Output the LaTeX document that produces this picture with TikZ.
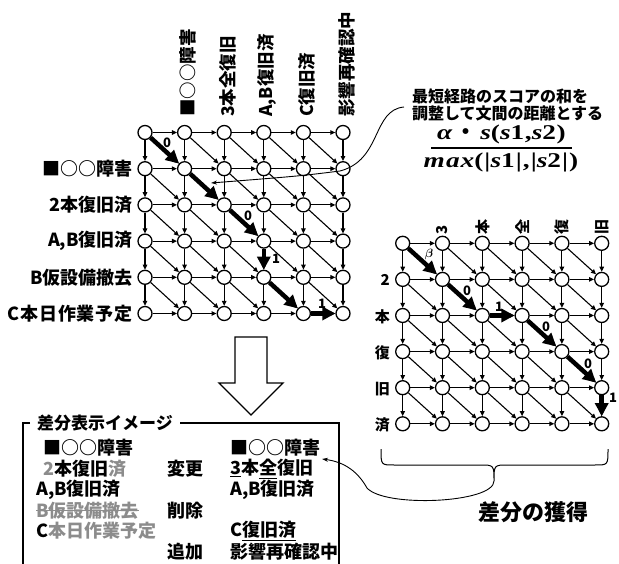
\documentclass[tikz,border=0pt]{standalone}
\usepackage{fontspec}
\usepackage{amsmath,bm}
\newfontfamily\jp{Noto Sans CJK JP}
\newfontfamily\msn{Liberation Serif}[LetterSpace=3,FakeStretch=1.3]
\newfontfamily\msd{Liberation Serif}[LetterSpace=5,FakeStretch=1.3]
\newcommand\bi[1]{{\itshape #1}}
\usetikzlibrary{arrows.meta}
\definecolor{txtgray}{RGB}{140,140,140}
\begin{document}
\begin{tikzpicture}[x=1pt,y=-1pt,
  vtx/.style={circle,draw,line width=1.3pt,fill=white,minimum size=14pt,inner sep=0pt},
  thinarr/.style={-{Triangle[length=5pt,width=4.5pt]},line width=1.1pt},
  thickarr/.style={-{Triangle[length=13pt,width=13pt]},line width=4.5pt},
  rowlbl/.style={font=\jp\bfseries\fontsize{18}{18}\selectfont,inner sep=0pt,anchor=east},
  collbl/.style={font=\jp\bfseries\fontsize{17.5}{17.5}\selectfont,inner sep=0pt,anchor=west,rotate=90},
  rrowlbl/.style={font=\jp\bfseries\fontsize{15}{15}\selectfont,inner sep=0pt,anchor=east},
  rcollbl/.style={font=\jp\bfseries\fontsize{15}{15}\selectfont,inner sep=0pt,anchor=west,rotate=90},
  elbl/.style={font=\jp\bfseries\fontsize{13}{13}\selectfont,inner sep=0pt},
  bx/.style={font=\jp\bfseries\fontsize{18}{18}\selectfont,anchor=west,inner sep=0pt},
  callout/.style={line width=0.9pt,-{Stealth[length=6pt,width=4pt]}},
]
\useasboundingbox (0,0) rectangle (619,564);

% ---------- left grid ----------
\foreach \c in {0,...,5} \foreach \r in {0,...,5}
  \node[vtx] (L\c\r) at ({145+39.6*\c},{132.5+36.2*\r}) {};
\foreach \c in {0,...,4} {
  \pgfmathtruncatemacro\nc{\c+1}
  \foreach \r in {0,...,5} \draw[thinarr] (L\c\r) -- (L\nc\r);
}
\foreach \r in {0,...,4} {
  \pgfmathtruncatemacro\nr{\r+1}
  \foreach \c in {0,...,5} \draw[thinarr] (L\c\r) -- (L\c\nr);
}
\foreach \c in {0,...,4} {
  \pgfmathtruncatemacro\nc{\c+1}
  \foreach \r in {0,...,4} {
    \pgfmathtruncatemacro\nr{\r+1}
    \draw[thinarr] (L\c\r) -- (L\nc\nr);
  }
}
\draw[thickarr] (L00) -- (L11);
\draw[thickarr] (L11) -- (L22);
\draw[thickarr] (L22) -- (L33);
\draw[thickarr] (L33) -- (L34);
\draw[thickarr] (L34) -- (L45);
\draw[thickarr] (L45) -- (L55);
\node[elbl] (le1) at (167,143) {0};
\node[elbl] (le2) at (248,216) {0};
\node[elbl] (le3) at (276,259) {1};
\node[elbl] (le4) at (322,304) {1};

% row labels
\node[rowlbl] (lr1) at (133,168.7) {■○○障害};
\node[rowlbl] (lr2) at (133,204.9) {2本復旧済};
\node[rowlbl] (lr3) at (133,241.1) {A,B復旧済};
\node[rowlbl] (lr4) at (133,277.3) {B仮設備撤去};
\node[rowlbl] (lr5) at (133,313.5) {\addfontfeature{LetterSpace=5}C本日作業予定};
% column labels
\node[collbl] (lc1) at (187.5,117) {■○○障害};
\node[collbl] (lc2) at (227.5,117) {3本全復旧};
\node[collbl] (lc3) at (267,117) {A,B復旧済};
\node[collbl] (lc4) at (307,117) {C復旧済};
\node[collbl] (lc5) at (346.5,117) {影響再確認中};

% ---------- note & formula ----------
\node[font=\jp\bfseries\fontsize{16}{16.5}\selectfont,align=left,inner sep=0pt,anchor=west] (note) at (412,105) {最短経路のスコアの和を\\調整して文間の距離とする};
\node[font=\msn\bfseries\fontsize{21}{21}\selectfont,inner sep=0pt] (num) at (501.5,134.5) {\bi{α}\,{\jp ・}\,\bi{s}(\bi{s}1,\bi{s}2)};
\node[font=\msd\bfseries\fontsize{21}{21}\selectfont,inner sep=0pt] (den) at (501,162) {\bi{max}(|\bi{s}1|,|\bi{s}2|)};
\coordinate (fb1) at (431,148);
\coordinate (fb2) at (572,148);
\draw[line width=1.6pt] (fb1) -- (fb2);
\coordinate (n0) at (404,107);
\coordinate (n1) at (340,171);
\coordinate (n2) at (211,183);
\draw[callout] (n0) .. controls (372,110) and (382,160) .. (n1) .. controls (300,176) .. (n2);

% ---------- right grid ----------
\foreach \c in {0,...,5} \foreach \r in {0,...,5}
  \node[vtx] (R\c\r) at ({402.7+39.8*\c},{243.3+36.1*\r}) {};
\foreach \c in {0,...,4} {
  \pgfmathtruncatemacro\nc{\c+1}
  \foreach \r in {0,...,5} \draw[thinarr] (R\c\r) -- (R\nc\r);
}
\foreach \r in {0,...,4} {
  \pgfmathtruncatemacro\nr{\r+1}
  \foreach \c in {0,...,5} \draw[thinarr] (R\c\r) -- (R\c\nr);
}
\foreach \c in {0,...,4} {
  \pgfmathtruncatemacro\nc{\c+1}
  \foreach \r in {0,...,4} {
    \pgfmathtruncatemacro\nr{\r+1}
    \draw[thinarr] (R\c\r) -- (R\nc\nr);
  }
}
\draw[thickarr] (R00) -- (R11);
\draw[thickarr] (R11) -- (R22);
\draw[thickarr] (R22) -- (R32);
\draw[thickarr] (R32) -- (R43);
\draw[thickarr] (R43) -- (R54);
\draw[thickarr] (R54) -- (R55);
\node[elbl] (re1) at (429,255) {$\bm{\beta}$};
\node[elbl] (re2) at (467,291) {0};
\node[elbl] (re3) at (499,307) {1};
\node[elbl] (re4) at (546,327) {0};
\node[elbl] (re5) at (588,364) {0};
\node[elbl] (re6) at (613,398) {1};

\node[rrowlbl] (rr1) at (390,280) {2};
\node[rrowlbl] (rr2) at (390,316.5) {本};
\node[rrowlbl] (rr3) at (390,352.6) {復};
\node[rrowlbl] (rr4) at (390,388.7) {旧};
\node[rrowlbl] (rr5) at (390,424.8) {済};
\node[rcollbl] (rc1) at (442.5,235) {3};
\node[rcollbl] (rc2) at (482.3,235) {本};
\node[rcollbl] (rc3) at (522.1,235) {全};
\node[rcollbl] (rc4) at (561.9,235) {復};
\node[rcollbl] (rc5) at (601.7,235) {旧};

% brace
\coordinate (bt) at (494,481);
\draw[line width=1pt] (381,449) .. controls (381,465) .. (394,465) -- (480,465)
   .. controls (494,465) .. (bt) .. controls (494,465) .. (508,465) -- (595,465)
   .. controls (608,465) .. (608,449);
\node[font=\jp\bfseries\fontsize{22}{22}\selectfont,inner sep=0pt] (gain) at (533,512) {差分の獲得};

% ---------- big hollow arrow ----------
\draw[line width=1.3pt,fill=white] (235,337) -- (267,337) -- (267,383) -- (283,383) -- (251,415) -- (219,383) -- (235,383) -- cycle;

% ---------- bottom box ----------
\node[bx,font=\jp\bfseries\fontsize{17}{17}\selectfont] (ttl) at (37,423) {差分表示イメージ};
\draw[line width=1.5pt] ([xshift=-7pt]ttl.west) -- (23,423) -- (23,566);
\draw[line width=1.5pt] ([xshift=7pt]ttl.east) -- (339,423) -- (339,566);

\node[bx] (a1) at (43,448) {■○○障害};
\node[bx] (a2) at (43,468.8) {\textcolor{txtgray}{2}本復旧\textcolor{txtgray}{済}};
\node[bx] (a3) at (36,489.6) {A,B復旧済};
\node[bx,text=txtgray] (a4) at (36,510.4) {B仮設備撤去};
\draw[txtgray,line width=1.3pt] (a4.west) -- (a4.east);
\node[bx] (a5) at (36,531.2) {C\textcolor{txtgray}{本日作業予定}};

\node[bx] (m2) at (167,468.8) {変更};
\node[bx] (m4) at (167,510.4) {削除};
\node[bx] (m6) at (167,552) {追加};

\node[bx] (b1) at (230,448) {■○○障害};
\node[bx] (b2) at (230,468.8) {\underline{3}本\underline{全}復旧};
\node[bx] (b3) at (230,489.6) {A,B復旧済};
\node[bx] (b5) at (230,531.2) {C\underline{復旧済}};
\node[bx] (b6) at (230,552) {影響再確認中};

\coordinate (ce) at (322,459);
\draw[callout] (bt) .. controls (494,503) and (385,508) .. (367,488) .. controls (358,472) and (345,462) .. (ce);
\end{tikzpicture}
\end{document}
